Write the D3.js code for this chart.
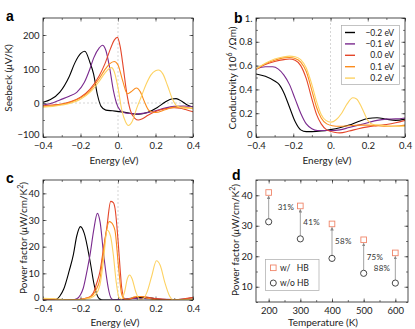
<!DOCTYPE html>
<html>
<head>
<meta charset="utf-8">
<script src="https://cdn.jsdelivr.net/npm/d3@7"></script>
<style>
  body { margin: 0; background: #fff; }
  svg { display: block; font-family: Lato, "Liberation Sans", sans-serif; }
</style>
</head>
<body>
<script>
// ---- data ----
const dopingLabels = ["\u22120.2 eV", "\u22120.1 eV", "0.0 eV", "0.1 eV", "0.2 eV"];
const dopingColors = ["#000000", "#7a2a8e", "#e4462a", "#fb8c1d", "#fdd262"];

// Seebeck (uV/K) vs energy (eV)
const seebeck_m02 = [[-0.4,2],[-0.36,10],[-0.31,32],[-0.26,78],[-0.23,118],[-0.2,145],[-0.177,152],[-0.15,120],[-0.13,85],[-0.11,25],[-0.09,-10],[-0.065,-21],[-0.03,-23],[0.02,-26],[0.07,-31],[0.11,-33],[0.16,-27],[0.21,-13],[0.25,2],[0.285,12],[0.31,13],[0.34,5],[0.37,-6],[0.4,-12]];
const seebeck_m01 = [[-0.4,-6],[-0.35,0],[-0.31,9],[-0.26,20],[-0.22,31],[-0.18,60],[-0.15,100],[-0.13,132],[-0.1,162],[-0.083,170],[-0.065,155],[-0.045,105],[-0.025,38],[0,-12],[0.025,-27],[0.06,-31],[0.1,-32],[0.15,-29],[0.2,-23],[0.25,-15],[0.3,-10],[0.35,-9],[0.4,-11]];
const seebeck_00 = [[-0.4,-8],[-0.35,-6],[-0.3,-3],[-0.25,4],[-0.2,17],[-0.15,40],[-0.1,80],[-0.07,115],[-0.04,160],[-0.02,185],[-0.003,193],[0.012,165],[0.028,105],[0.045,35],[0.065,-20],[0.09,-45],[0.108,-50],[0.13,-46],[0.16,-36],[0.2,-25],[0.25,-17],[0.3,-14],[0.33,-15],[0.36,-19],[0.4,-26]];
const seebeck_p01 = [[-0.4,-10],[-0.35,-8],[-0.3,-4],[-0.25,3],[-0.2,15],[-0.15,36],[-0.1,72],[-0.07,98],[-0.045,115],[-0.02,122],[0,112],[0.025,65],[0.05,27],[0.07,33],[0.098,44],[0.12,32],[0.14,5],[0.165,-22],[0.2,-28],[0.25,-20],[0.3,-12],[0.35,-12],[0.4,-17]];
const seebeck_p02 = [[-0.4,-12],[-0.35,-10],[-0.3,-6],[-0.25,0],[-0.2,11],[-0.15,31],[-0.1,64],[-0.07,88],[-0.05,100],[-0.035,104],[-0.02,92],[0,45],[0.02,-20],[0.04,-55],[0.055,-66],[0.075,-55],[0.1,-15],[0.125,20],[0.15,55],[0.175,82],[0.2,95],[0.215,97],[0.24,85],[0.265,50],[0.29,12],[0.315,-9],[0.35,-15],[0.4,-15]];

// Conductivity (10^6 / Ohm m) vs energy (eV)
const sigma_m02 = [[-0.4,0.53],[-0.35,0.51],[-0.3,0.47],[-0.275,0.44],[-0.25,0.37],[-0.22,0.25],[-0.19,0.13],[-0.16,0.06],[-0.13,0.045],[-0.1,0.045],[-0.05,0.05],[0,0.062],[0.05,0.078],[0.1,0.1],[0.15,0.13],[0.2,0.155],[0.25,0.162],[0.3,0.15],[0.35,0.14],[0.4,0.15]];
const sigma_m01 = [[-0.4,0.57],[-0.35,0.59],[-0.31,0.59],[-0.28,0.57],[-0.25,0.52],[-0.22,0.44],[-0.19,0.32],[-0.16,0.2],[-0.13,0.11],[-0.1,0.07],[-0.07,0.055],[0,0.055],[0.05,0.06],[0.1,0.08],[0.15,0.1],[0.2,0.12],[0.25,0.14],[0.3,0.15],[0.35,0.152],[0.4,0.16]];
const sigma_00 = [[-0.4,0.57],[-0.35,0.61],[-0.3,0.635],[-0.25,0.65],[-0.22,0.655],[-0.19,0.645],[-0.16,0.6],[-0.13,0.49],[-0.1,0.32],[-0.075,0.19],[-0.05,0.11],[-0.02,0.06],[0.02,0.04],[0.05,0.035],[0.1,0.05],[0.15,0.07],[0.2,0.085],[0.25,0.095],[0.3,0.105],[0.35,0.12],[0.4,0.14]];
const sigma_p01 = [[-0.4,0.57],[-0.35,0.615],[-0.3,0.645],[-0.25,0.665],[-0.22,0.668],[-0.19,0.66],[-0.16,0.63],[-0.13,0.55],[-0.1,0.39],[-0.075,0.25],[-0.05,0.16],[-0.02,0.11],[0.01,0.095],[0.05,0.09],[0.1,0.095],[0.15,0.1],[0.2,0.1],[0.25,0.095],[0.3,0.09],[0.35,0.092],[0.4,0.1]];
const sigma_p02 = [[-0.4,0.57],[-0.35,0.62],[-0.3,0.655],[-0.25,0.675],[-0.22,0.68],[-0.19,0.675],[-0.16,0.65],[-0.13,0.58],[-0.1,0.44],[-0.075,0.3],[-0.05,0.19],[-0.025,0.14],[0.003,0.125],[0.03,0.145],[0.06,0.2],[0.09,0.28],[0.12,0.33],[0.14,0.32],[0.17,0.24],[0.2,0.14],[0.23,0.105],[0.27,0.1],[0.32,0.092],[0.4,0.09]];

// Power factor (uW/cm/K^2) vs energy (eV)
const pf_m02 = [[-0.4,0],[-0.34,0],[-0.31,1.5],[-0.29,4],[-0.26,11],[-0.238,17],[-0.22,24],[-0.2,27.5],[-0.18,25],[-0.15,15],[-0.125,5],[-0.1,0.5],[-0.08,0],[0,0.1],[0.05,0.4],[0.1,0.9],[0.14,1],[0.18,0.7],[0.22,0.2],[0.26,0],[0.4,0]];
const pf_m01 = [[-0.4,0],[-0.25,0],[-0.22,0.5],[-0.2,2],[-0.185,4.5],[-0.165,11],[-0.149,17],[-0.13,26],[-0.11,32.5],[-0.095,29],[-0.078,18],[-0.06,8],[-0.052,4.5],[-0.035,0.5],[-0.02,0],[0.02,0.2],[0.06,0.5],[0.1,0.6],[0.15,0.5],[0.2,0.4],[0.25,0.25],[0.3,0.2],[0.35,0.4],[0.4,0.8]];
const pf_00 = [[-0.4,0.3],[-0.25,0.2],[-0.2,0.3],[-0.16,0.8],[-0.132,2.6],[-0.115,6],[-0.096,10.7],[-0.078,19],[-0.06,27],[-0.039,37],[-0.025,36.5],[-0.016,34.4],[0.002,20.7],[0.012,11],[0.02,4.5],[0.037,0.3],[0.05,0.2],[0.08,0.7],[0.11,1.3],[0.14,1.2],[0.2,0.5],[0.26,0.2],[0.32,0.2],[0.36,0.5],[0.4,1.0]];
const pf_p01 = [[-0.4,0.5],[-0.34,0.4],[-0.29,0],[-0.22,0.1],[-0.18,0.5],[-0.14,1.5],[-0.12,3.5],[-0.096,8],[-0.078,18],[-0.047,29.4],[-0.035,29],[-0.016,26],[0.002,13],[0.02,2],[0.035,0.3],[0.06,0.4],[0.09,1.2],[0.12,1.3],[0.15,0.8],[0.18,0.3],[0.22,0],[0.3,0.1],[0.4,0.4]];
const pf_p02 = [[-0.4,0.6],[-0.34,0.45],[-0.27,0.05],[-0.23,0],[-0.18,0.3],[-0.15,0.7],[-0.12,2],[-0.096,5.7],[-0.078,14.5],[-0.058,26.2],[-0.04,24],[-0.025,17],[-0.01,7],[0.005,1],[0.02,0.3],[0.035,3],[0.05,8],[0.062,9.4],[0.075,8],[0.095,3],[0.115,0.3],[0.135,0.5],[0.155,3],[0.18,9],[0.205,14.7],[0.225,13],[0.25,6.5],[0.275,1.5],[0.295,0],[0.35,0.1],[0.4,0.3]];

// Panel d: power factor vs temperature
const temperatures = [200, 300, 400, 500, 600];
const pfWithHB = [40.9, 36.5, 30.6, 25.4, 21.1];
const pfWithoutHB = [31.3, 25.7, 19.3, 14.4, 11.2];
const enhancement = ["31%", "41%", "58%", "75%", "88%"];

const seebeckSeries = [seebeck_m02, seebeck_m01, seebeck_00, seebeck_p01, seebeck_p02];
const sigmaSeries = [sigma_m02, sigma_m01, sigma_00, sigma_p01, sigma_p02];
const pfSeries = [pf_m02, pf_m01, pf_00, pf_p01, pf_p02];

// ---- layout ----
const width = 415, height = 329;
const svg = d3.select("body").append("svg")
  .attr("width", width).attr("height", height);

const tickFont = 9.5;
const fmtEnergy = d => d === 0 ? "0." : d3.format(".1f")(d);
const tenths = d3.range(-4, 5).map(d => d / 10);
const energyLabels = [-0.4, -0.2, 0, 0.2, 0.4];

// draws a framed panel with inward ticks on all four sides
function makePanel(id, box, xDomain, yDomain, opt) {
  const x = d3.scaleLinear().domain(xDomain).range([box.left, box.right]);
  const y = d3.scaleLinear().domain(yDomain).range([box.bottom, box.top]);
  const g = svg.append("g").attr("class", "panel-" + id);

  g.append("clipPath").attr("id", "clip-" + id)
    .append("rect")
    .attr("x", box.left).attr("y", box.top)
    .attr("width", box.right - box.left).attr("height", box.bottom - box.top);

  const tickAxis = (axisFn, scale, values, size, fmt, transform, pad) => {
    const a = axisFn(scale).tickValues(values).tickSizeInner(-size).tickSizeOuter(0)
      .tickPadding(pad).tickFormat(fmt || "");
    const ga = g.append("g").attr("transform", transform).call(a);
    ga.select(".domain").remove();
    ga.selectAll("line").attr("stroke", "#222").attr("stroke-width", 0.6);
    ga.selectAll("text").attr("font-size", tickFont).attr("fill", "#222")
      .attr("font-family", "Lato, 'Liberation Sans', sans-serif");
    return ga;
  };

  // minor ticks
  tickAxis(d3.axisBottom, x, opt.xMinor, 2, null, `translate(0,${box.bottom})`, 4);
  tickAxis(d3.axisTop, x, opt.xMinor, 2, null, `translate(0,${box.top})`, 4);
  tickAxis(d3.axisLeft, y, opt.yMinor, 2, null, `translate(${box.left},0)`, 4);
  tickAxis(d3.axisRight, y, opt.yMinor, 2, null, `translate(${box.right},0)`, 4);
  // major ticks with labels
  tickAxis(d3.axisBottom, x, opt.xMajor, 3.5, opt.xFmt, `translate(0,${box.bottom})`, 5);
  tickAxis(d3.axisTop, x, opt.xMajor, 3.5, null, `translate(0,${box.top})`, 4);
  const yl = tickAxis(d3.axisLeft, y, opt.yMajor, 3.5, opt.yFmt, `translate(${box.left},0)`, 3.5);
  tickAxis(d3.axisRight, y, opt.yMajor, 3.5, null, `translate(${box.right},0)`, 4);
  // lift the lowest y label a little so it clears the x labels
  if (opt.yMajor[0] === yDomain[0]) {
    yl.selectAll(".tick text").filter(d => d === yDomain[0]).attr("dy", "0.05em");
  }

  const plot = g.append("g").attr("clip-path", `url(#clip-${id})`);

  g.append("rect")
    .attr("x", box.left).attr("y", box.top)
    .attr("width", box.right - box.left).attr("height", box.bottom - box.top)
    .attr("fill", "none").attr("stroke", "#222").attr("stroke-width", 0.8);

  return { x, y, g, plot };
}

function dashedZero(p, vertical, horizontal) {
  const [x0, x1] = p.x.range(), [y0, y1] = p.y.range();
  if (vertical) {
    p.plot.append("line")
      .attr("x1", p.x(0)).attr("x2", p.x(0)).attr("y1", y0).attr("y2", y1)
      .attr("stroke", "#bbb").attr("stroke-width", 0.6).attr("stroke-dasharray", "2,2");
  }
  if (horizontal) {
    p.plot.append("line")
      .attr("x1", x0).attr("x2", x1).attr("y1", p.y(0)).attr("y2", p.y(0))
      .attr("stroke", "#bbb").attr("stroke-width", 0.6).attr("stroke-dasharray", "2,2");
  }
}

function drawCurves(p, series) {
  const line = d3.line()
    .x(d => p.x(d[0])).y(d => p.y(d[1]))
    .curve(d3.curveMonotoneX);
  p.plot.selectAll("path.curve")
    .data(series)
    .enter().append("path")
    .attr("class", "curve")
    .attr("d", line)
    .attr("fill", "none")
    .attr("stroke", (d, i) => dopingColors[i])
    .attr("stroke-width", 1.1);
}

function panelLetter(txt, x, y) {
  svg.append("text").attr("x", x).attr("y", y).text(txt)
    .attr("font-size", 14).attr("font-weight", "bold")
    .attr("font-family", "'Liberation Sans', Arial, sans-serif");
}

function xTitle(txt, cx, y) {
  svg.append("text").attr("x", cx).attr("y", y).attr("text-anchor", "middle")
    .attr("font-size", 10).attr("fill", "#222").text(txt);
}

function yTitle(parts, x, cy) {
  const t = svg.append("text")
    .attr("transform", `translate(${x},${cy}) rotate(-90)`)
    .attr("text-anchor", "middle").attr("font-size", 10).attr("fill", "#222");
  parts.forEach(p => {
    const s = t.append("tspan").text(p.t);
    if (p.italic) s.attr("font-style", "italic");
    if (p.sup) s.attr("baseline-shift", "super").attr("font-size", 7);
  });
}

// ---- panel a: Seebeck ----
const pa = makePanel("a", { left: 43, right: 193, top: 18, bottom: 137 }, [-0.4, 0.4], [-100, 250], {
  xMajor: energyLabels, xMinor: tenths, xFmt: fmtEnergy,
  yMajor: [-100, 0, 100, 200], yMinor: d3.range(-100, 251, 50), yFmt: d3.format("d")
});
dashedZero(pa, true, true);
drawCurves(pa, seebeckSeries);
panelLetter("a", 6, 21);
xTitle("Energy (eV)", 114, 164);
yTitle([{ t: "Seebeck (" }, { t: "\u03bc", italic: true }, { t: "V/K)" }], 12, 78);

// ---- panel b: conductivity ----
const pb = makePanel("b", { left: 256, right: 405, top: 18, bottom: 137 }, [-0.4, 0.4], [0, 1], {
  xMajor: energyLabels, xMinor: tenths, xFmt: fmtEnergy,
  yMajor: [0, 0.2, 0.4, 0.6, 0.8, 1], yMinor: d3.range(0, 11).map(d => d / 10),
  yFmt: d => d === 0 ? "0" : d === 1 ? "1." : d3.format(".1f")(d)
});
dashedZero(pb, true, false);
drawCurves(pb, sigmaSeries);
panelLetter("b", 234, 23);
xTitle("Energy (eV)", 327, 164);
yTitle([{ t: "Conductivity (10" }, { t: "6", sup: true }, { t: " /\u03a9m)" }], 236, 78);

// legend for panel b
const lg = svg.append("g");
lg.append("rect").attr("x", 341.5).attr("y", 25.5).attr("width", 58).attr("height", 59)
  .attr("fill", "#fff").attr("stroke", "#aaa").attr("stroke-width", 0.7);
dopingLabels.forEach((lab, i) => {
  const yy = 32.5 + i * 11.4;
  lg.append("line").attr("x1", 345).attr("x2", 355).attr("y1", yy).attr("y2", yy)
    .attr("stroke", dopingColors[i]).attr("stroke-width", 1.4);
  lg.append("text").attr("x", 394).attr("y", yy + 3).attr("text-anchor", "end")
    .attr("font-size", 8.5).attr("fill", "#222").text(lab);
});

// ---- panel c: power factor vs energy ----
const pc = makePanel("c", { left: 43, right: 193, top: 180, bottom: 300 }, [-0.4, 0.4], [0, 45], {
  xMajor: energyLabels, xMinor: tenths, xFmt: fmtEnergy,
  yMajor: [0, 10, 20, 30, 40], yMinor: d3.range(0, 46, 5), yFmt: d3.format("d")
});
dashedZero(pc, true, false);
drawCurves(pc, pfSeries);
panelLetter("c", 6, 183);
xTitle("Energy (eV)", 115, 326);
yTitle([{ t: "Power factor (" }, { t: "\u03bc", italic: true }, { t: "W/cm/K" }, { t: "2", sup: true }, { t: ")" }], 27, 238);

// ---- panel d: power factor vs temperature ----
const pd = makePanel("d", { left: 256, right: 408, top: 180, bottom: 302 }, [160, 640], [5, 45], {
  xMajor: temperatures, xMinor: d3.range(150, 641, 50).filter(d => d > 160), xFmt: d3.format("d"),
  yMajor: [10, 20, 30, 40], yMinor: d3.range(5, 46, 5), yFmt: d3.format("d")
});
panelLetter("d", 232, 180);
xTitle("Temperature (K)", 323, 326);
yTitle([{ t: "Power factor (" }, { t: "\u03bc", italic: true }, { t: "W/cm/K" }, { t: "2", sup: true }, { t: ")" }], 239, 240);

const defs = svg.append("defs");
defs.append("marker").attr("id", "arrowhead")
  .attr("viewBox", "0 0 6 6").attr("refX", 5).attr("refY", 3)
  .attr("markerWidth", 4).attr("markerHeight", 4).attr("orient", "auto")
  .append("path").attr("d", "M0,0L6,3L0,6Z").attr("fill", "#888");

const rMark = 2.8;
temperatures.forEach((t, i) => {
  const xx = pd.x(t);
  pd.g.append("line")
    .attr("x1", xx).attr("x2", xx)
    .attr("y1", pd.y(pfWithoutHB[i]) - rMark - 0.5)
    .attr("y2", pd.y(pfWithHB[i]) + rMark + 0.8)
    .attr("stroke", "#999").attr("stroke-width", 0.9)
    .attr("marker-end", "url(#arrowhead)");
  const mid = pd.y((pfWithHB[i] + pfWithoutHB[i]) / 2);
  const last = i === temperatures.length - 1;
  pd.g.append("text")
    .attr("x", last ? xx - 5 : xx + (i === 0 ? 9 : 3))
    .attr("y", mid + 3)
    .attr("text-anchor", last ? "end" : "start")
    .attr("font-size", 8).attr("fill", "#333").attr("letter-spacing", 0.3)
    .text(enhancement[i]);
});

pd.g.selectAll("rect.withHB").data(temperatures).enter().append("rect")
  .attr("class", "withHB")
  .attr("x", (d) => pd.x(d) - rMark).attr("y", (d, i) => pd.y(pfWithHB[i]) - rMark)
  .attr("width", rMark * 2).attr("height", rMark * 2)
  .attr("fill", "#fff").attr("stroke", "#f0866a").attr("stroke-width", 0.9);

pd.g.selectAll("circle.withoutHB").data(temperatures).enter().append("circle")
  .attr("class", "withoutHB")
  .attr("cx", d => pd.x(d)).attr("cy", (d, i) => pd.y(pfWithoutHB[i]))
  .attr("r", rMark + 0.3)
  .attr("fill", "#fff").attr("stroke", "#333").attr("stroke-width", 0.9);

// legend for panel d
const ld = svg.append("g");
ld.append("rect").attr("x", 265.5).attr("y", 259.5).attr("width", 53.5).attr("height", 31)
  .attr("fill", "#fff").attr("stroke", "#aaa").attr("stroke-width", 0.7);
ld.append("rect").attr("x", 270.5).attr("y", 265).attr("width", 5.6).attr("height", 5.6)
  .attr("fill", "#fff").attr("stroke", "#f0866a").attr("stroke-width", 0.9);
ld.append("text").attr("x", 280).attr("y", 271).attr("font-size", 8.5).attr("fill", "#222")
  .attr("xml:space", "preserve").text("w/   HB");
ld.append("circle").attr("cx", 273.3).attr("cy", 283).attr("r", 3)
  .attr("fill", "#fff").attr("stroke", "#333").attr("stroke-width", 0.9);
ld.append("text").attr("x", 280).attr("y", 286).attr("font-size", 8.5).attr("fill", "#222")
  .text("w/o HB");
</script>
</body>
</html>
